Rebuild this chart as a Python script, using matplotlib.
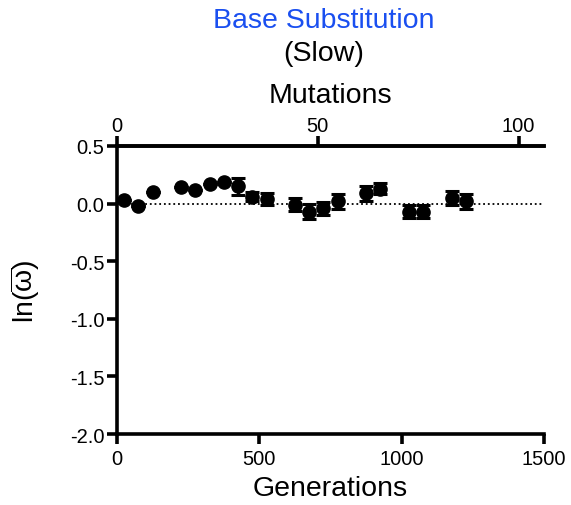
import matplotlib
matplotlib.use("Agg")
import matplotlib.pyplot as plt

plt.rcParams['font.family'] = ['Liberation Sans', 'DejaVu Sans']
plt.rcParams['mathtext.fontset'] = 'custom'
plt.rcParams['mathtext.rm'] = 'Liberation Sans'
plt.rcParams['mathtext.it'] = 'Liberation Sans'

# data
generations = [25, 75, 125, 225, 275, 325, 375, 425, 475, 525,
               625, 675, 725, 775, 875, 925, 1025, 1075, 1175, 1225]
ln_fitness = [0.03, -0.02, 0.10, 0.14, 0.12, 0.17, 0.19, 0.15, 0.06, 0.04,
              -0.01, -0.07, -0.04, 0.02, 0.09, 0.13, -0.07, -0.07, 0.05, 0.02]
sem = [0.0, 0.0, 0.0, 0.0, 0.0, 0.0, 0.0, 0.075, 0.04, 0.05,
       0.055, 0.065, 0.055, 0.065, 0.065, 0.05, 0.055, 0.055, 0.06, 0.065]
gen_per_mutation = 14.1

fig = plt.figure(figsize=(5.71, 5.06), dpi=100)
ax = fig.add_axes([0.205, 0.1403, 0.748, 0.5692])

ax.axhline(0, color='black', lw=1.3, ls=(0, (1, 1.6)), zorder=1)
ax.errorbar(generations, ln_fitness, yerr=sem, fmt='o', color='black',
            ms=9.5, capsize=5, capthick=2.2, elinewidth=2.2, zorder=3)

ax.set_xlim(0, 1500)
ax.set_ylim(-2.0, 0.5)
ax.set_xticks([0, 500, 1000, 1500])
ax.set_yticks([0.5, 0.0, -0.5, -1.0, -1.5, -2.0])
ax.set_yticklabels(['0.5', '0.0', '-0.5', '-1.0', '-1.5', '-2.0'])

for side in ['left', 'bottom', 'top']:
    ax.spines[side].set_linewidth(2.6)
ax.spines['right'].set_visible(False)
ax.tick_params(axis='x', width=2.6, length=7, labelsize=14.5, direction='out', pad=4)
ax.tick_params(axis='y', width=2.6, length=7, labelsize=14.5, direction='out', pad=2)
ax.set_xlabel('Generations', fontsize=20.5, labelpad=5)
ax.set_ylabel(r'ln($\overline{\omega}$)', fontsize=20.5, labelpad=20)

top = ax.secondary_xaxis('top', functions=(lambda g: g / gen_per_mutation,
                                            lambda m: m * gen_per_mutation))
top.set_xticks([0, 50, 100])
top.tick_params(width=2.6, length=7, labelsize=14.5, direction='out', pad=1)
top.spines['top'].set_linewidth(2.6)
top.set_xlabel('Mutations', fontsize=20.5, labelpad=10)

fig.text(0.567, 0.958, 'Base Substitution', color='#1a4ff0', fontsize=20.5,
         ha='center', va='center')
fig.text(0.567, 0.893, '(Slow)', color='black', fontsize=20.5,
         ha='center', va='center')

fig.savefig('out.png', dpi=100)
